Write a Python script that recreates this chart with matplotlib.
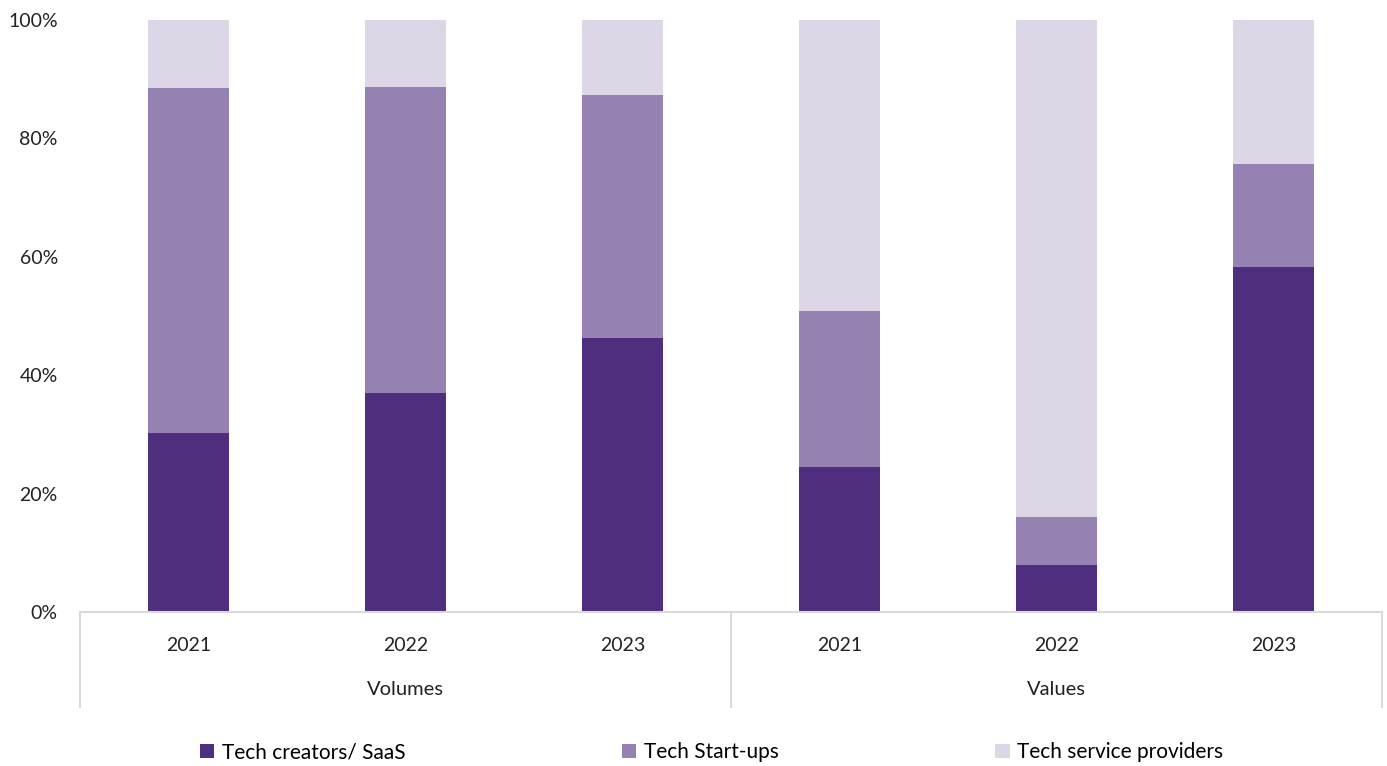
import matplotlib
matplotlib.use("Agg")
import matplotlib.pyplot as plt
import matplotlib.transforms as mtransforms
from matplotlib.patches import Patch
import numpy as np

plt.rcParams['font.family'] = ['Lato', 'DejaVu Sans']

years = ['2021', '2022', '2023', '2021', '2022', '2023']
groups = ['Volumes', 'Values']
series = ['Tech creators/ SaaS', 'Tech Start-ups', 'Tech service providers']
creators = [30.2, 37.0, 46.3, 24.5, 7.9, 58.3]
startups = [58.3, 51.7, 41.0, 26.3, 8.1, 17.4]
services = [11.5, 11.3, 12.7, 49.2, 84.0, 24.3]
colors = ['#4F2D7F', '#9682B2', '#DCD6E7']

fig = plt.figure(figsize=(13.87, 7.66), dpi=100)
ax = fig.add_axes([0.0577, 0.201, 0.9387, 0.773])

x = np.arange(len(years))
bottom = np.zeros(len(years))
for vals, col in zip([creators, startups, services], colors):
    ax.bar(x, vals, width=0.37, bottom=bottom, color=col, edgecolor='none', zorder=2)
    bottom += np.array(vals)

ax.set_xlim(-0.5, len(years) - 0.5)
ax.set_ylim(0, 100)
ax.set_yticks(np.arange(0, 101, 20))
ax.set_yticklabels([f'{v}%' for v in range(0, 101, 20)], fontsize=14, color='#222222')
ax.set_xticks(x)
ax.set_xticklabels(years, fontsize=14, color='#222222')
ax.tick_params(axis='both', length=0)
ax.tick_params(axis='x', pad=18)
ax.tick_params(axis='y', pad=16)

for s in ['top', 'right', 'left']:
    ax.spines[s].set_visible(False)
ax.spines['bottom'].set_color('#D9D9D9')
ax.spines['bottom'].set_linewidth(1.5)

# group separators and labels
trans = mtransforms.blended_transform_factory(ax.transData, ax.transAxes)
for xs in [-0.5, 2.5, 5.5]:
    ax.plot([xs, xs], [0, -0.16], transform=trans, color='#D9D9D9', lw=1.5, clip_on=False)
for i, g in enumerate(groups):
    ax.text(1 + 3 * i, -0.13, g, transform=trans, ha='center', va='center',
            fontsize=14.5, color='#222222')

handles = [Patch(facecolor=c, edgecolor='none') for c in colors]
fig.legend(handles, series, loc='center', bbox_to_anchor=(0.513, 0.018), ncol=3,
           frameon=False, fontsize=15, handlelength=0.7, handleheight=0.7,
           handletextpad=0.35, columnspacing=10.4)

fig.savefig('out.png', dpi=100)
